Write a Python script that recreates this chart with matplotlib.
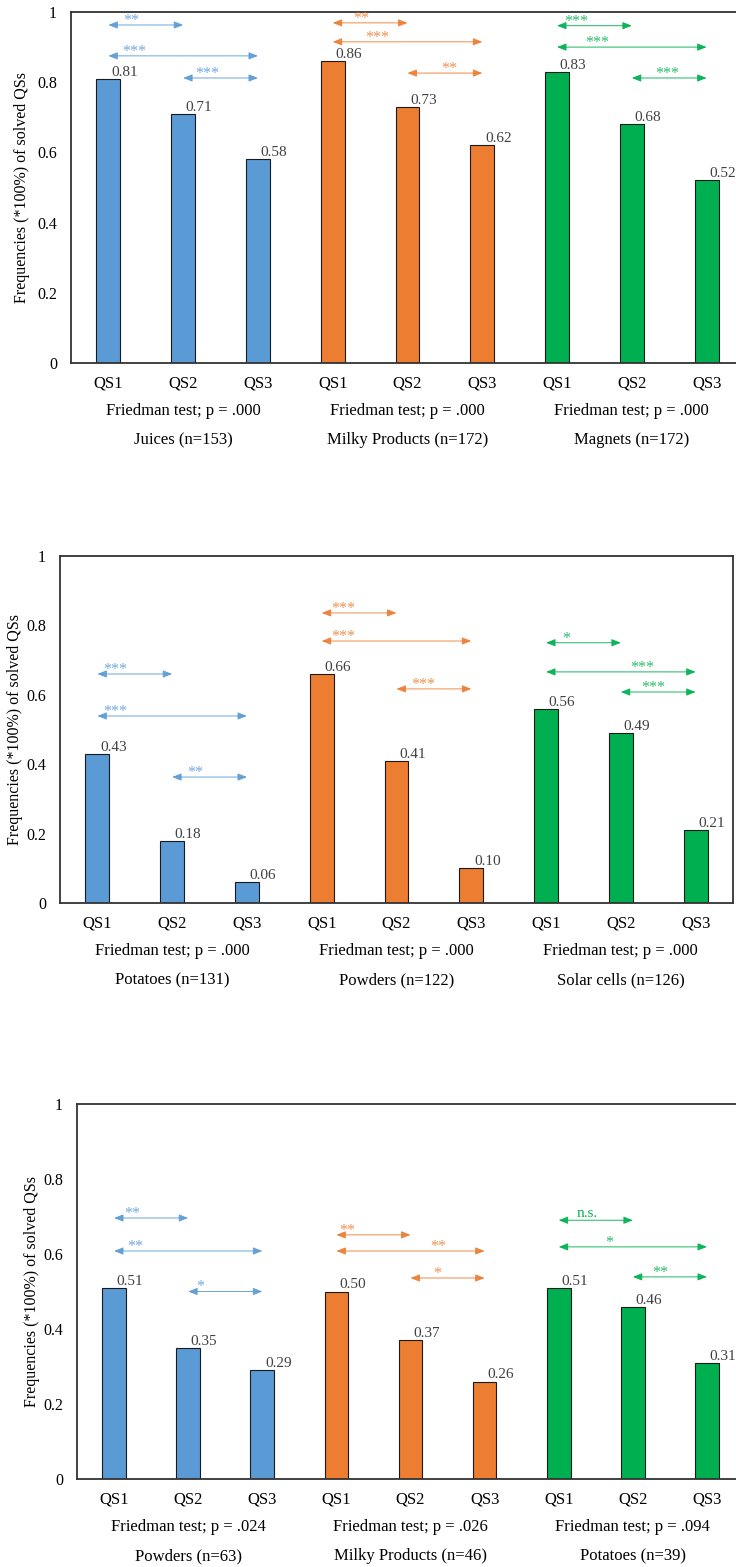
import numpy as np
import matplotlib.pyplot as plt

plt.rcParams['font.family'] = ['Liberation Serif', 'DejaVu Serif']

W, H = 736, 1567

qs_labels = ['QS1', 'QS2', 'QS3']
colors = ['#5B9BD5', '#ED7D31', '#00B050']
y_ticks = [0, 0.2, 0.4, 0.6, 0.8, 1]
y_tick_labels = ['0', '0.2', '0.4', '0.6', '0.8', '1']

# Panel 1
groups_1 = ['Juices (n=153)', 'Milky Products (n=172)', 'Magnets (n=172)']
p_values_1 = ['.000', '.000', '.000']
freq_1 = [[0.81, 0.71, 0.58], [0.86, 0.73, 0.62], [0.83, 0.68, 0.52]]
# (from bar, to bar, level, stars, x of stars)
sig_1 = [
    (0, 1, 0.963, '**', 0.31),
    (0, 2, 0.875, '***', 0.35),
    (1, 2, 0.812, '***', 1.32),
    (3, 4, 0.969, '**', 3.38),
    (3, 5, 0.915, '***', 3.60),
    (4, 5, 0.826, '**', 4.56),
    (6, 7, 0.961, '***', 6.25),
    (6, 8, 0.900, '***', 6.54),
    (7, 8, 0.812, '***', 7.47),
]

# Panel 2
groups_2 = ['Potatoes (n=131)', 'Powders (n=122)', 'Solar cells (n=126)']
p_values_2 = ['.000', '.000', '.000']
freq_2 = [[0.43, 0.18, 0.06], [0.66, 0.41, 0.10], [0.56, 0.49, 0.21]]
sig_2 = [
    (0, 1, 0.660, '***', 0.24),
    (0, 2, 0.539, '***', 0.24),
    (1, 2, 0.363, '**', 1.31),
    (3, 4, 0.836, '***', 3.29),
    (3, 5, 0.755, '***', 3.29),
    (4, 5, 0.617, '***', 4.36),
    (6, 7, 0.750, '*', 6.27),
    (6, 8, 0.666, '***', 7.29),
    (7, 8, 0.608, '***', 7.43),
]

# Panel 3
groups_3 = ['Powders (n=63)', 'Milky Products (n=46)', 'Potatoes (n=39)']
p_values_3 = ['.024', '.026', '.094']
freq_3 = [[0.51, 0.35, 0.29], [0.50, 0.37, 0.26], [0.51, 0.46, 0.31]]
sig_3 = [
    (0, 1, 0.696, '**', 0.24),
    (0, 2, 0.608, '**', 0.28),
    (1, 2, 0.500, '*', 1.16),
    (3, 4, 0.651, '**', 3.14),
    (3, 5, 0.608, '**', 4.37),
    (4, 5, 0.536, '*', 4.36),
    (6, 7, 0.690, 'n.s.', 6.38),
    (6, 8, 0.619, '*', 6.68),
    (7, 8, 0.539, '**', 7.37),
]

fig = plt.figure(figsize=(W / 100, H / 100), dpi=100)


def draw_panel(rect, ylabel_x, groups, p_values, freqs, sigs):
    left, top, right, bottom = rect
    ax = fig.add_axes([left / W, 1 - bottom / H, (right - left) / W, (bottom - top) / H])

    x = np.arange(9)
    vals = np.concatenate(freqs)
    bar_colors = np.repeat(colors, 3)
    ax.bar(x, vals, width=0.32, color=bar_colors, edgecolor='#1a1a1a', linewidth=0.8, zorder=2)

    # value labels
    for xi, v in zip(x, vals):
        ax.annotate(f'{v:.2f}', xy=(xi, v), xytext=(16, 3), textcoords='offset pixels',
                    ha='center', va='baseline', fontsize=11, color='#404040')

    # significance arrows
    for start, end, level, stars, star_x in sigs:
        c = colors[start // 3]
        ax.annotate('', xy=(end, level), xytext=(start, level),
                    arrowprops=dict(arrowstyle='<|-|>,head_length=0.55,head_width=0.22',
                                    color=c, lw=0.7, alpha=0.9, shrinkA=0, shrinkB=0,
                                    mutation_scale=10))
        if stars == 'n.s.':
            ax.annotate(stars, xy=(star_x, level), xytext=(0, 3), textcoords='offset pixels',
                        ha='center', va='baseline', fontsize=11, color=c)
        else:
            ax.annotate(stars, xy=(star_x, level), xytext=(0, 0), textcoords='offset pixels',
                        ha='center', va='baseline', fontsize=11.5, color=c, alpha=0.85)

    # group captions under the axis
    for g in range(3):
        ax.annotate(f'Friedman test; p = {p_values[g]}', xy=(3 * g + 1, 0), xytext=(0, -48),
                    textcoords='offset pixels', ha='center', va='center', fontsize=12,
                    annotation_clip=False)
        ax.annotate(groups[g], xy=(3 * g + 1, 0), xytext=(0, -77),
                    textcoords='offset pixels', ha='center', va='center', fontsize=12,
                    annotation_clip=False)

    ax.set_xlim(-0.5, 8.5)
    ax.set_ylim(0, 1)
    ax.set_xticks(x, qs_labels * 3)
    ax.set_yticks(y_ticks, y_tick_labels)
    ax.tick_params(axis='x', length=0, pad=9, labelsize=12)
    ax.tick_params(axis='y', length=0, pad=10, labelsize=11.5)
    for s in ax.spines.values():
        s.set_color('#333333')
        s.set_linewidth(1.3)

    fig.text(ylabel_x / W, 1 - (top + bottom) / 2 / H, 'Frequencies (*100%) of solved QSs',
             rotation=90, ha='center', va='center', fontsize=11.5)


draw_panel((71, 12, 744, 363), 22, groups_1, p_values_1, freq_1, sig_1)
draw_panel((60, 556, 733, 903), 15, groups_2, p_values_2, freq_2, sig_2)
draw_panel((77, 1104, 744, 1479), 32, groups_3, p_values_3, freq_3, sig_3)

fig.savefig('out.png', dpi=100)
